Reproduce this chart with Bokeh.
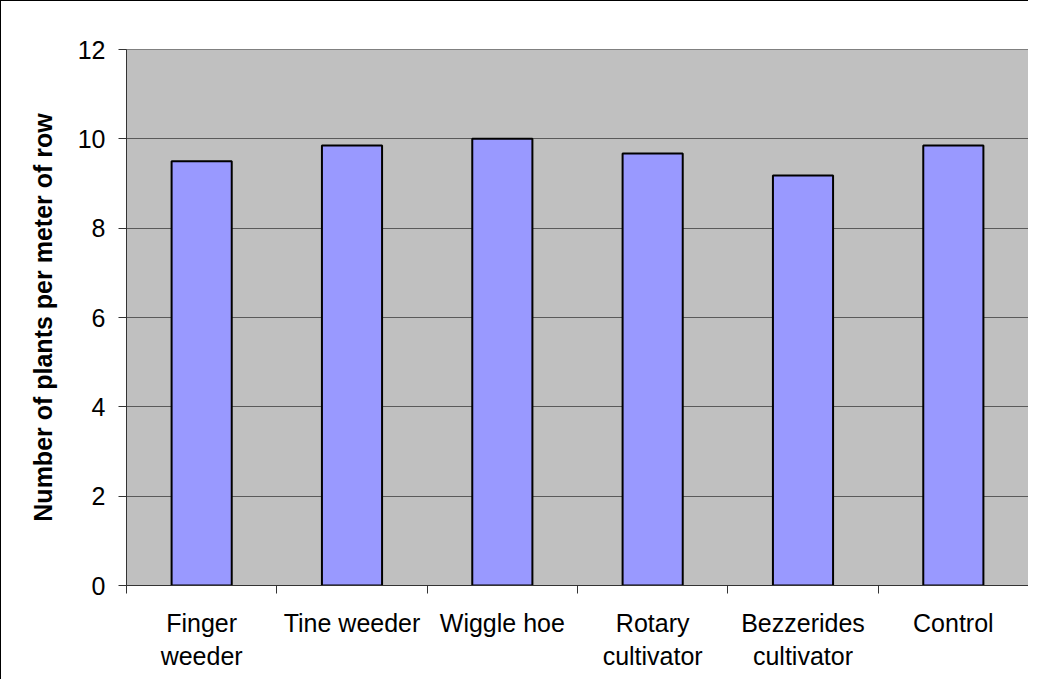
from bokeh.plotting import figure
from bokeh.models import Range1d, FixedTicker, CustomJSTickFormatter
from bokeh.embed import file_html
from bokeh.resources import INLINE

categories = ["Finger\nweeder", "Tine weeder", "Wiggle hoe",
              "Rotary\ncultivator", "Bezzerides\ncultivator", "Control"]
values = [9.5, 9.85, 10.0, 9.67, 9.18, 9.85]
y_ticks = [0, 2, 4, 6, 8, 10, 12]

n = len(categories)
centers = [i + 0.5 for i in range(n)]
bounds = list(range(n + 1))

FONT = "Liberation Sans"

p = figure(width=1028, height=679,
           x_range=Range1d(0, n), y_range=Range1d(0, 12),
           output_backend="svg", toolbar_location=None,
           min_border_left=125, min_border_top=48,
           min_border_bottom=95, min_border_right=1)
p.styles = {"border-left": "1px solid black", "border-top": "1px solid black"}

p.background_fill_color = "#C0C0C0"
p.border_fill_color = "white"
p.outline_line_color = "#808080"

p.vbar(x=centers, top=values, width=0.4, fill_color="#9999FF",
       line_color="black", line_width=2)

# x axis
p.xaxis.ticker = FixedTicker(ticks=centers, minor_ticks=bounds)
p.xaxis.formatter = CustomJSTickFormatter(args=dict(cats=categories),
                                          code="return cats[Math.round(tick - 0.5)];")
p.xaxis.major_tick_out = 0
p.xaxis.major_tick_in = 0
p.xaxis.minor_tick_out = 8
p.xaxis.minor_tick_in = 0
p.xaxis.minor_tick_line_color = "#333333"
p.xaxis.axis_line_color = "#333333"
p.xaxis.major_label_text_font = FONT
p.xaxis.major_label_text_font_size = "25px"
p.xaxis.major_label_text_color = "black"
p.xaxis.major_label_standoff = 15

# y axis
p.yaxis.ticker = FixedTicker(ticks=y_ticks)
p.yaxis.major_tick_out = 8
p.yaxis.major_tick_in = 0
p.yaxis.minor_tick_line_color = None
p.yaxis.major_tick_line_color = "#333333"
p.yaxis.axis_line_color = "#333333"
p.yaxis.major_label_text_font = FONT
p.yaxis.major_label_text_font_size = "25px"
p.yaxis.major_label_text_color = "black"
p.yaxis.major_label_standoff = 13
p.yaxis.axis_label = "Number of plants per meter of row"
p.yaxis.axis_label_text_font = FONT
p.yaxis.axis_label_text_font_size = "25px"
p.yaxis.axis_label_text_font_style = "bold"
p.yaxis.axis_label_text_color = "black"
p.yaxis.axis_label_standoff = 18

p.xgrid.grid_line_color = None
p.ygrid.ticker = FixedTicker(ticks=y_ticks)
p.ygrid.grid_line_color = "#5a5a5a"
p.ygrid.grid_line_width = 1

open("out.html", "w").write(file_html(p, INLINE))
